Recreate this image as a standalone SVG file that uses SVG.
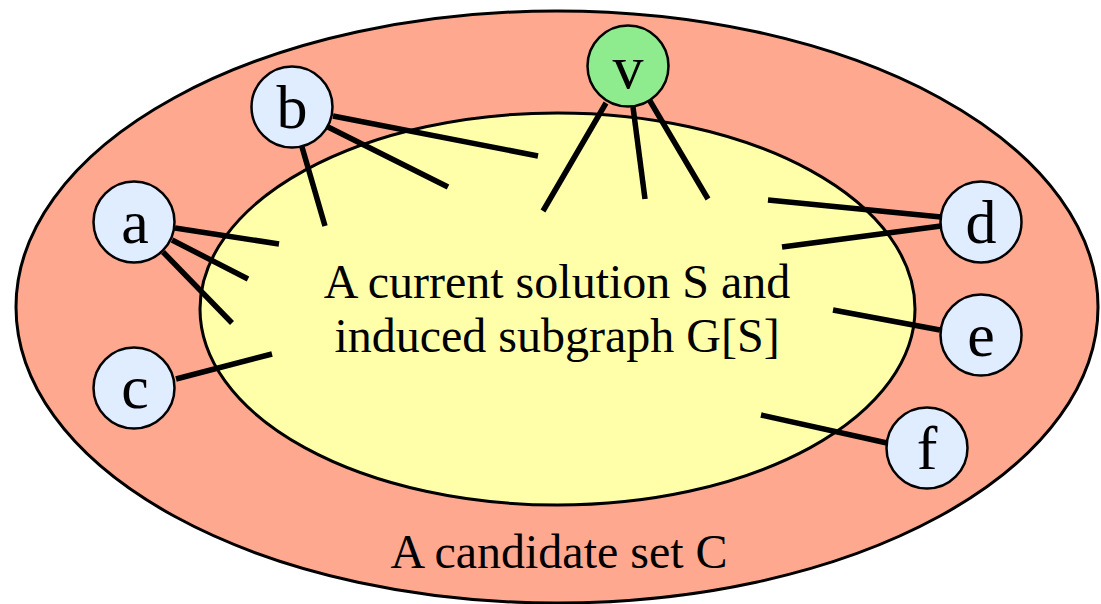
<svg xmlns="http://www.w3.org/2000/svg" width="1101" height="604" viewBox="0 0 1101 604">
<style>
.set{stroke:#000;stroke-width:3}
.node circle{fill:#E0ECFF;stroke:#000;stroke-width:2.5}
#v circle{fill:#8EEB8E}
.lbl{font-family:"Liberation Serif","Times New Roman",serif;font-size:62px;text-anchor:middle;fill:#000}
.txt{font-family:"Liberation Serif","Times New Roman",serif;font-size:48px;text-anchor:middle;fill:#000}
#edges line{stroke:#000;stroke-width:5.5;stroke-linecap:butt}
</style>
<rect width="1101" height="604" fill="#fff"/>
<g id="candidate-set">
<ellipse class="set" cx="557" cy="307" rx="541" ry="296" fill="#FFA890"/>
<text class="txt" x="559" y="568">A candidate set C</text>
</g>
<g id="solution">
<ellipse class="set" cx="557.5" cy="309" rx="357.5" ry="196" fill="#FFFFAA"/>
<text class="txt" x="557" y="298">A current solution S and</text>
<text class="txt" x="557" y="352">induced subgraph G[S]</text>
</g>
<g id="edges">
<line x1="333" y1="116" x2="538" y2="156"/>
<line x1="328" y1="127" x2="448" y2="187"/>
<line x1="302" y1="147" x2="325" y2="226"/>
<line x1="175" y1="228" x2="279" y2="244"/>
<line x1="172" y1="240" x2="248" y2="279"/>
<line x1="163" y1="252" x2="232" y2="323"/>
<line x1="176" y1="379" x2="272" y2="354"/>
<line x1="606" y1="103" x2="543" y2="211"/>
<line x1="633" y1="107" x2="645" y2="199"/>
<line x1="650" y1="101" x2="708" y2="199"/>
<line x1="768" y1="200" x2="941" y2="217"/>
<line x1="782" y1="247" x2="941" y2="226"/>
<line x1="833" y1="310" x2="940" y2="330"/>
<line x1="761" y1="415" x2="887" y2="443"/>
</g>
<g id="a" class="node"><circle cx="134" cy="222" r="40.5"/><text class="lbl" x="135" y="243">a</text></g>
<g id="b" class="node"><circle cx="292" cy="107" r="40.5"/><text class="lbl" x="292" y="128">b</text></g>
<g id="c" class="node"><circle cx="134" cy="388" r="40.5"/><text class="lbl" x="135" y="408">c</text></g>
<g id="v" class="node"><circle cx="628" cy="66" r="40.5"/><text class="lbl" x="628" y="88">v</text></g>
<g id="d" class="node"><circle cx="981" cy="222" r="40.5"/><text class="lbl" x="981" y="243">d</text></g>
<g id="e" class="node"><circle cx="981" cy="335" r="40.5"/><text class="lbl" x="981" y="356">e</text></g>
<g id="f" class="node"><circle cx="927" cy="448" r="40.5"/><text class="lbl" x="927" y="469">f</text></g>
</svg>
